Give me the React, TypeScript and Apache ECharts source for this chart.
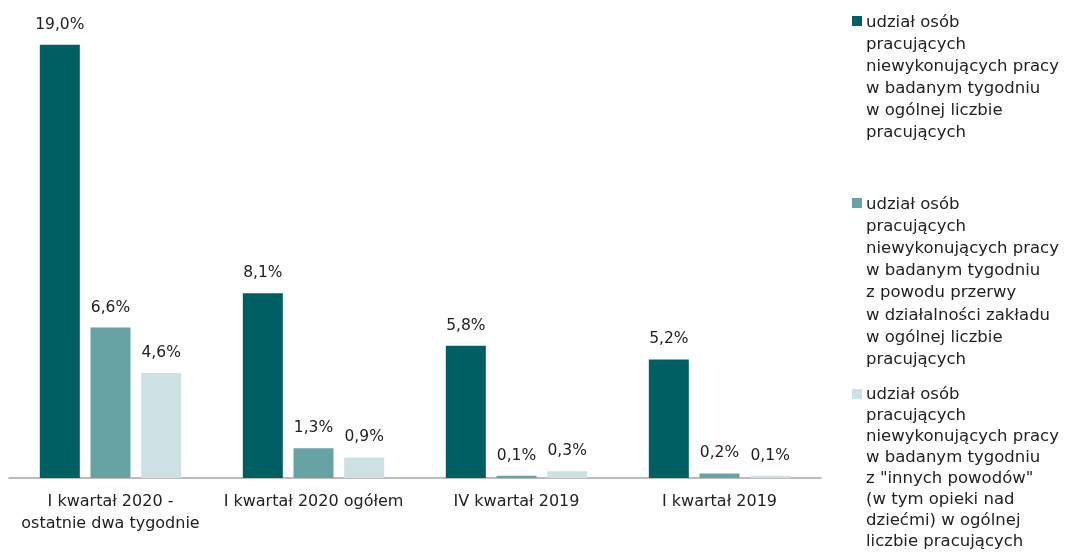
import React, { useEffect, useRef } from "react";
import * as echarts from "echarts";

const categories = [
  "I kwartał 2020 -\nostatnie dwa tygodnie",
  "I kwartał 2020 ogółem",
  "IV kwartał 2019",
  "I kwartał 2019",
];
const seriesNames = [
  "udział osób\npracujących\nniewykonujących pracy\nw badanym tygodniu\nw ogólnej liczbie\npracujących",
  "udział osób\npracujących\nniewykonujących pracy\nw badanym tygodniu\nz powodu przerwy\nw działalności zakładu\nw ogólnej liczbie\npracujących",
  "udział osób\npracujących\nniewykonujących pracy\nw badanym tygodniu\nz \"innych powodów\"\n(w tym opieki nad\ndziećmi) w ogólnej\nliczbie pracujących",
];
const totalAbsent = [19.0, 8.1, 5.8, 5.2];
const closureAbsent = [6.6, 1.3, 0.1, 0.2];
const otherAbsent = [4.6, 0.9, 0.3, 0.1];
const colors = ["#005f62", "#67a2a5", "#cde0e3"];

const FONT = "DejaVu Sans";

export default function App() {
  const ref = useRef<HTMLDivElement>(null);
  useEffect(() => {
    if (!ref.current) return;
    const chart = echarts.init(ref.current, null, { renderer: "svg" });
    const values = [totalAbsent, closureAbsent, otherAbsent];
    const legendTops = [10, 192, 383];
    const lineHeights = [22, 22.2, 21];
    chart.setOption({
      animation: false,
      textStyle: { fontFamily: FONT },
      grid: { left: 9, right: 244, top: 22, bottom: 74 },
      xAxis: {
        type: "category",
        data: categories,
        axisLine: { lineStyle: { color: "#a6a6a6", width: 1.5 } },
        axisTick: { show: false },
        axisLabel: {
          color: "#222",
          fontSize: 16,
          lineHeight: 22,
          margin: 11,
          fontFamily: FONT,
          interval: 0,
        },
      },
      yAxis: {
        type: "value",
        min: 0,
        max: 20,
        show: false,
        splitLine: { show: false },
      },
      legend: seriesNames.map((n, i) => ({
        data: [n],
        left: 851,
        top: legendTops[i],
        padding: 0,
        icon: "none",
        itemWidth: 10,
        itemHeight: 10,
        selectedMode: false,
        orient: "vertical",
        textStyle: {
          color: "#222",
          fontSize: 16.5,
          lineHeight: lineHeights[i],
          fontFamily: FONT,
        },
      })),
      graphic: legendTops.map((t, i) => ({
        type: "rect",
        shape: { x: 852, y: t + 6, width: 10, height: 10 },
        style: { fill: colors[i] },
      })),
      series: values.map((v, i) => ({
        type: "bar",
        name: seriesNames[i],
        data: v,
        barWidth: 40,
        barGap: "26.7%",
        itemStyle: { color: colors[i] },
        label: {
          show: true,
          position: "top",
          distance: 13,
          color: "#222",
          fontSize: 15.5,
          fontFamily: FONT,
          formatter: (p: any) => p.value.toFixed(1).replace(".", ",") + "%",
        },
      })),
    });
    return () => chart.dispose();
  }, []);
  return (
    <div
      ref={ref}
      style={{ width: 1065, height: 552, position: "fixed", left: 0, top: 0 }}
    />
  );
}
